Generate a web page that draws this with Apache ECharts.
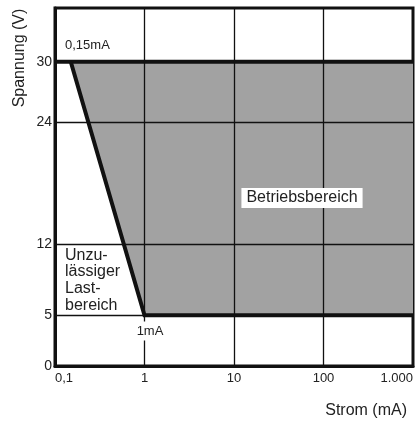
<!DOCTYPE html>
<html>
<head>
<meta charset="utf-8">
<script src="https://cdn.jsdelivr.net/npm/echarts@6/dist/echarts.min.js"></script>
<style>html,body{margin:0;padding:0;background:#fff;}#c{width:416px;height:421px;}</style>
</head>
<body>
<div id="c"></div>
<script>
// Data
const xTickValues = [0.1, 1, 10, 100, 1000];
const xTickLabels = ['0,1', '1', '10', '100', '1.000'];
const yTickValues = [0, 5, 12, 24, 30];
const gridCurrents = [1, 10, 100];
const gridVoltages = [5, 12, 24];
const areaCurrent = [0.15, 1000, 1000, 1];
const areaVoltage = [30, 30, 5, 5];
const topLimitCurrent = [0.1, 1000];
const topLimitVoltage = [30, 30];
const boundaryCurrent = [0.15, 1, 1000];
const boundaryVoltage = [30, 5, 5];

const FONT = 'Liberation Sans, Arial, sans-serif';
const chart = echarts.init(document.getElementById('c'), null, {renderer: 'canvas'});

function tickLabel(v) {
  const i = xTickValues.findIndex(t => Math.abs(Math.log10(t) - Math.log10(v)) < 1e-6);
  return i >= 0 ? xTickLabels[i] : '';
}

chart.setOption({
  animation: false,
  backgroundColor: '#fff',
  grid: {left: 55, right: 3, top: 8, bottom: 55, show: true, borderColor: '#111', borderWidth: 3, backgroundColor: 'transparent'},
  xAxis: {
    type: 'log', logBase: 10, min: 0.1, max: 1000,
    axisLine: {show: true, lineStyle: {color: '#111', width: 3}},
    axisTick: {show: false},
    splitLine: {show: false},
    axisLabel: {formatter: tickLabel, color: '#222', fontFamily: FONT, fontSize: 13, margin: 6,
      alignMinLabel: 'left', alignMaxLabel: 'right'}
  },
  yAxis: {
    type: 'value', min: 0, max: 35.3,
    axisLine: {show: true, lineStyle: {color: '#111', width: 3}},
    axisTick: {show: false},
    splitLine: {show: false},
    axisLabel: {customValues: yTickValues, color: '#222', fontFamily: FONT, fontSize: 14, margin: 3}
  },
  series: [
    {
      type: 'custom', z: 1,
      data: areaCurrent.map((c, i) => [c, areaVoltage[i]]),
      renderItem: function (params, api) {
        if (params.dataIndex !== 0) return null;
        const pts = areaCurrent.map((c, i) => api.coord([c, areaVoltage[i]]));
        return {type: 'polygon', shape: {points: pts}, style: {fill: '#a2a2a2'}};
      }
    },
    {
      type: 'line', z: 3, symbol: 'none', silent: true,
      data: topLimitCurrent.map((c, i) => [c, topLimitVoltage[i]]),
      lineStyle: {color: '#111', width: 4},
      markLine: {
        silent: true, symbol: 'none', label: {show: false},
        lineStyle: {color: '#111', width: 1.3, type: 'solid'},
        data: gridCurrents.map(c => ({xAxis: c})).concat(gridVoltages.map(v => ({yAxis: v})))
      }
    },
    {
      type: 'line', z: 4, symbol: 'none', silent: true,
      data: boundaryCurrent.map((c, i) => [c, boundaryVoltage[i]]),
      lineStyle: {color: '#111', width: 4, join: 'miter'}
    }
  ],
  graphic: [
    {type: 'text', x: 20, y: 58, rotation: Math.PI / 2, z: 10,
      style: {text: 'Spannung (V)', fill: '#222', font: '16px ' + FONT, textAlign: 'center', textVerticalAlign: 'middle'}},
    {type: 'text', x: 407, y: 411, z: 10,
      style: {text: 'Strom (mA)', fill: '#222', font: '16px ' + FONT, textAlign: 'right', textVerticalAlign: 'middle'}},
    {type: 'text', x: 65, y: 45, z: 10,
      style: {text: '0,15mA', fill: '#222', font: '13px ' + FONT, textAlign: 'left', textVerticalAlign: 'middle'}},
    {type: 'text', x: 150, y: 331, z: 10,
      style: {text: '1mA', fill: '#222', font: '13px ' + FONT, textAlign: 'center', textVerticalAlign: 'middle',
        backgroundColor: '#fff', padding: [3, 2, 3, 2]}},
    {type: 'text', x: 302, y: 198, z: 10,
      style: {text: 'Betriebsbereich', fill: '#222', font: '16px ' + FONT, textAlign: 'center', textVerticalAlign: 'middle',
        backgroundColor: '#fff', padding: [2, 5, 2, 5]}},
    {type: 'text', x: 65, y: 247, z: 10,
      style: {text: 'Unzu-\nlässiger\nLast-\nbereich', fill: '#222', font: '16px ' + FONT, lineHeight: 16.7,
        textAlign: 'left', textVerticalAlign: 'top'}}
  ]
});
</script>
</body>
</html>
